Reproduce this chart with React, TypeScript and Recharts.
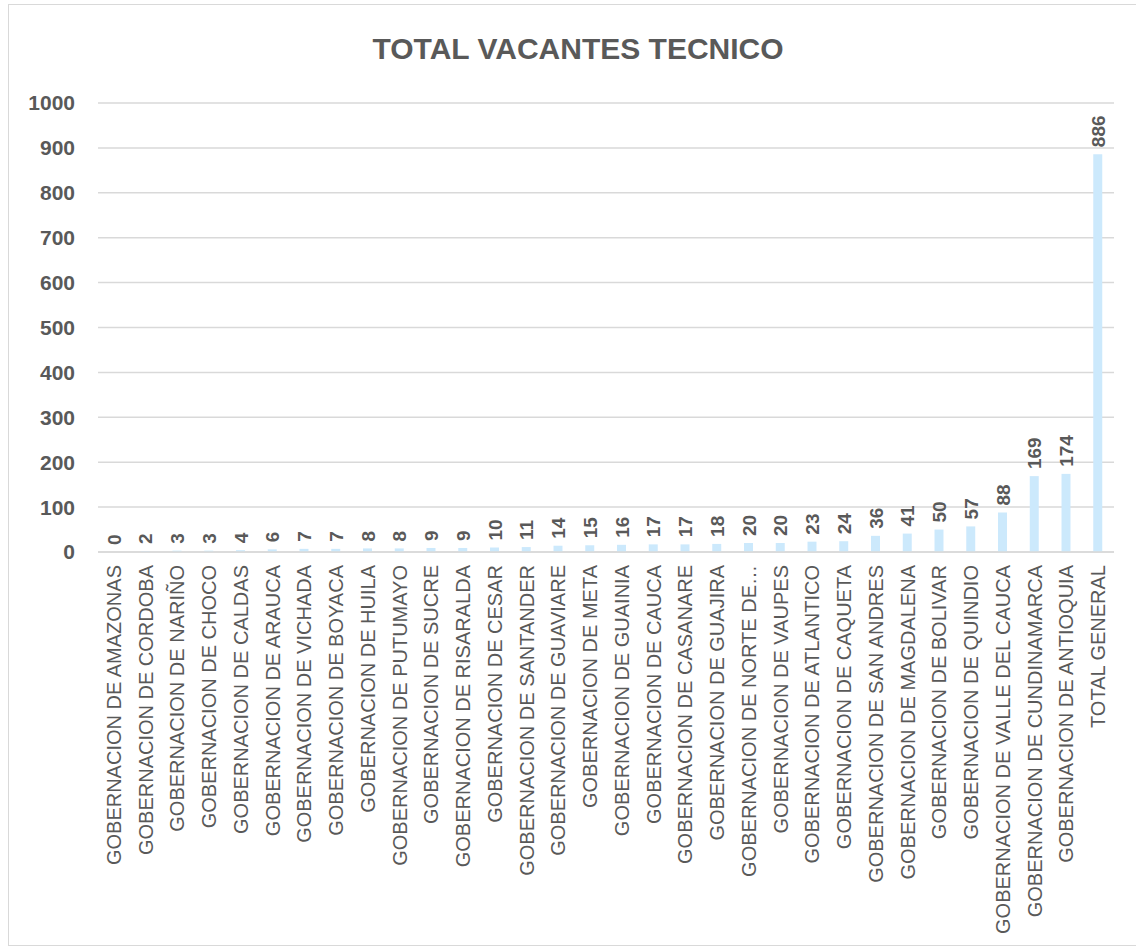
import React from 'react';
import { ComposedChart, Bar, Line, XAxis, YAxis, CartesianGrid, LabelList } from 'recharts';

const departamentos = [
  'GOBERNACION DE AMAZONAS',
  'GOBERNACION DE CORDOBA',
  'GOBERNACION DE NARIÑO',
  'GOBERNACION DE CHOCO',
  'GOBERNACION DE CALDAS',
  'GOBERNACION DE ARAUCA',
  'GOBERNACION DE VICHADA',
  'GOBERNACION DE BOYACA',
  'GOBERNACION DE HUILA',
  'GOBERNACION DE PUTUMAYO',
  'GOBERNACION DE SUCRE',
  'GOBERNACION DE RISARALDA',
  'GOBERNACION DE CESAR',
  'GOBERNACION DE SANTANDER',
  'GOBERNACION DE GUAVIARE',
  'GOBERNACION DE META',
  'GOBERNACION DE GUAINIA',
  'GOBERNACION DE CAUCA',
  'GOBERNACION DE CASANARE',
  'GOBERNACION DE GUAJIRA',
  'GOBERNACION DE NORTE DE…',
  'GOBERNACION DE VAUPES',
  'GOBERNACION DE ATLANTICO',
  'GOBERNACION DE CAQUETA',
  'GOBERNACION DE SAN ANDRES',
  'GOBERNACION DE MAGDALENA',
  'GOBERNACION DE BOLIVAR',
  'GOBERNACION DE QUINDIO',
  'GOBERNACION DE VALLE DEL CAUCA',
  'GOBERNACION DE CUNDINAMARCA',
  'GOBERNACION DE ANTIOQUIA',
  'TOTAL GENERAL',
];

const vacantes = [0, 2, 3, 3, 4, 6, 7, 7, 8, 8, 9, 9, 10, 11, 14, 15, 16, 17, 17, 18, 20, 20, 23, 24, 36, 41, 50, 57, 88, 169, 174, 886];

const yTicks = [0, 100, 200, 300, 400, 500, 600, 700, 800, 900, 1000];

const data = departamentos.map((name, i) => ({ name, value: vacantes[i] }));

const FONT = '"Liberation Sans", Arial, sans-serif';
const GREY = '#595959';

const XTick = (props: any) => {
  const { x, y, payload } = props;
  return (
    <text
      transform={`translate(${x},${y + 5}) rotate(-90)`}
      textAnchor="end"
      dy="0.35em"
      fontSize={20}
      fontFamily={FONT}
      fill={GREY}
    >
      {payload.value}
    </text>
  );
};

// labels hang off an invisible line so the zero bar gets one too
const ValueLabel = (props: any) => {
  const { x, y, value } = props;
  return (
    <text
      transform={`translate(${x},${y - 7}) rotate(-90)`}
      textAnchor="start"
      dy="0.35em"
      fontSize={19}
      fontWeight="bold"
      fontFamily={FONT}
      fill={GREY}
    >
      {String(value)}
    </text>
  );
};

export default function App() {
  return (
    <div>
      <style>{`body{margin:0;overflow:hidden;}`}</style>
      <div
        style={{
          position: 'absolute',
          left: 8,
          top: 4,
          width: 1140,
          height: 940,
          border: '1px solid #d9d9d9',
          background: '#fff',
        }}
      >
        <div
          style={{
            position: 'absolute',
            left: 0,
            top: 27,
            width: 1138,
            textAlign: 'center',
            fontFamily: FONT,
            fontWeight: 'bold',
            fontSize: 30,
            color: GREY,
          }}
        >
          TOTAL VACANTES TECNICO
        </div>
        <ComposedChart
          width={1128}
          height={938}
          data={data}
          margin={{ top: 98, right: 23, bottom: 0, left: 0 }}
          barCategoryGap={0}
        >
          <CartesianGrid vertical={false} stroke="#d9d9d9" strokeWidth={1.5} />
          <XAxis
            dataKey="name"
            interval={0}
            height={391}
            tick={<XTick />}
            tickLine={false}
            axisLine={{ stroke: '#d9d9d9', strokeWidth: 1.5 }}
          />
          <YAxis
            width={89}
            domain={[0, 1000]}
            ticks={yTicks}
            interval={0}
            tickLine={false}
            axisLine={false}
            tickMargin={17}
            tick={{ fill: GREY, fontSize: 21, fontWeight: 'bold', fontFamily: FONT }}
          />
          <Bar dataKey="value" fill="#cce9fc" barSize={9} isAnimationActive={false} />
          <Line
            dataKey="value"
            stroke="none"
            dot={false}
            activeDot={false}
            legendType="none"
            isAnimationActive={false}
          >
            <LabelList dataKey="value" content={<ValueLabel />} />
          </Line>
        </ComposedChart>
      </div>
    </div>
  );
}
